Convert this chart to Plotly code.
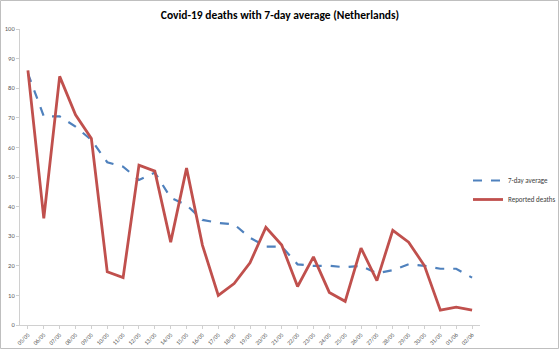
import plotly.graph_objects as go

dates = ["05/05","06/05","07/05","08/05","09/05","10/05","11/05","12/05","13/05","14/05",
         "15/05","16/05","17/05","18/05","19/05","20/05","21/05","22/05","23/05","24/05",
         "25/05","26/05","27/05","28/05","29/05","30/05","31/05","01/06","02/06"]
reported = [86, 36, 84, 71, 63, 18, 16, 54, 52, 28, 53, 27, 10, 14, 21, 33, 27, 13, 23, 11,
            8, 26, 15, 32, 28, 20, 5, 6, 5]
avg7 = [85, 70.5, 70.5, 67, 62.5, 55, 53.5, 49, 51.5, 43, 40.5, 35.5, 34.5, 34, 29.5, 26.5,
        26.5, 20.5, 20, 20, 19.5, 20, 17.5, 18.5, 20.5, 20, 19, 19, 16]

idx = list(range(len(dates)))

fig = go.Figure()
fig.add_trace(go.Scatter(x=idx, y=avg7, mode="lines", name="7-day average",
                         line=dict(color="#4F81BD", width=2.2, dash="dash")))
fig.add_trace(go.Scatter(x=idx, y=reported, mode="lines", name="Reported deaths",
                         line=dict(color="#C0504D", width=2.8)))

L, R, T, B = 20, 80, 29, 25
W, H = 560, 350
pw, ph = W - L - R, H - T - B

fig.update_layout(
    width=W, height=H,
    margin=dict(l=L, r=R, t=T, b=B, autoexpand=False),
    paper_bgcolor="white", plot_bgcolor="white",
    font=dict(family="Carlito, Liberation Sans, sans-serif", color="#595959"),
    title=dict(text="<b>Covid-19 deaths with 7-day average (Netherlands)</b>",
               x=0.5, xanchor="center", y=1 - 15 / H, yanchor="middle",
               font=dict(size=11.5, color="#000000")),
    showlegend=True,
    legend=dict(xref="container", yref="container",
                x=468 / W, y=1 - 166 / H, xanchor="left", yanchor="top",
                font=dict(size=7, color="#404040"), bgcolor="rgba(0,0,0,0)",
                itemwidth=30, tracegroupgap=0),
    xaxis=dict(range=[-0.5, len(dates) - 0.5], tickmode="array", tickvals=idx, ticktext=dates,
               tickangle=-45, tickfont=dict(size=6, color="#595959"),
               showline=True, linecolor="#D0D0D0", linewidth=1,
               ticks="outside", ticklen=3, tickcolor="#D0D0D0", tickson="boundaries",
               showgrid=False, zeroline=False, fixedrange=True, automargin=False),
    yaxis=dict(range=[0, 100], dtick=10, tickfont=dict(size=6.5, color="#595959"),
               showline=True, linecolor="#D0D0D0", linewidth=1,
               ticks="outside", ticklen=3, tickcolor="#D0D0D0",
               showgrid=False, zeroline=False, fixedrange=True, automargin=False),
)

# outer chart border (Excel-style frame)
fig.add_shape(type="rect", xref="paper", yref="paper",
              x0=(0.5 - L) / pw, x1=(W - 1.5 - L) / pw,
              y0=(H - B - (H - 1.5)) / ph, y1=(H - B - 0.5) / ph,
              line=dict(color="#BFBFBF", width=1), fillcolor="rgba(0,0,0,0)", layer="below")

fig.write_html("out.html")
